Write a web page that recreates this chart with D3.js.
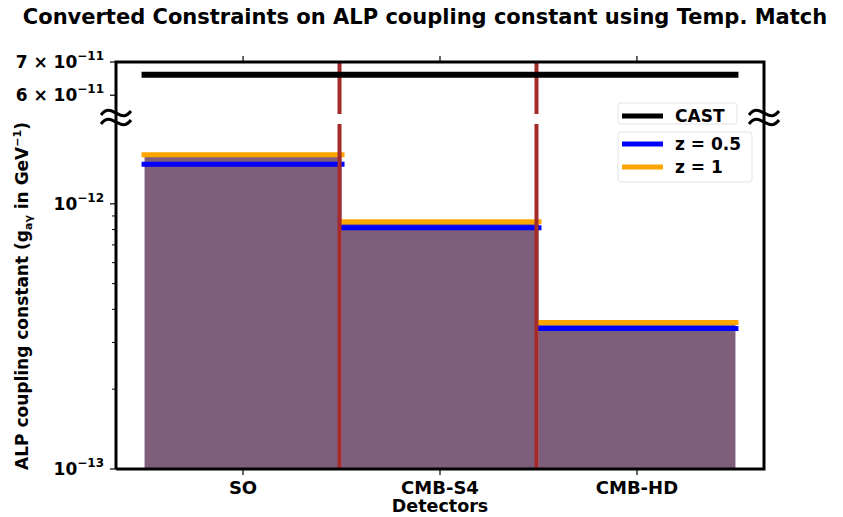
<!DOCTYPE html>
<html>
<head>
<meta charset="utf-8">
<script src="https://cdn.jsdelivr.net/npm/d3@7"></script>
<style>
	body{margin:0;background:#fff;}
	svg{display:block;font-family:"DejaVu Sans",sans-serif;font-weight:bold;}
</style>
</head>
<body>
<div id="wrap"></div>
<script>
//data
var detectors = ["SO", "CMB-S4", "CMB-HD"];
var z05 = [1.41e-12, 8.12e-13, 3.39e-13];   //blue
var z1 = [1.53e-12, 8.56e-13, 3.57e-13];    //orange
var castLimit = 6.6e-11;
var topTicks = [6e-11, 7e-11];
var botMajor = [1e-13, 1e-12];
var botMinor = [2e-13, 3e-13, 4e-13, 5e-13, 6e-13, 7e-13, 8e-13, 9e-13];

(function(){
	var W = 843, H = 517;
	var L = 116, R = 764;
	var svg = d3.select("#wrap").append("svg").attr("width", W).attr("height", H);

	var x = d3.scaleBand().domain(detectors).range([L, R]).paddingInner(0).paddingOuter(0.145);
	var yTop = d3.scaleLog().domain([5.5e-11, 7e-11]).range([114, 62]);
	var yBot = d3.scaleLog().domain([1e-13, 2e-12]).range([469, 124]);

	var purple = "#7f5e7c", brown = "#a52a2a";
	var x0 = x(detectors[0]), x1 = x(detectors[detectors.length-1]) + x.bandwidth();

	//bars (up to orange value), then lines
	var g = svg.append("g");
	g.selectAll("rect.bar").data(detectors).enter().append("rect")
		.attr("x", function(d){return x(d)})
		.attr("width", x.bandwidth())
		.attr("y", function(d,i){return yBot(z1[i])})
		.attr("height", function(d,i){return yBot(1e-13) - yBot(z1[i])})
		.attr("fill", purple);

	function hline(vals, col){
		g.selectAll(null).data(detectors).enter().append("line")
			.attr("x1", function(d){return x(d) - 3})
			.attr("x2", function(d){return x(d) + x.bandwidth() + 3})
			.attr("y1", function(d,i){return yBot(vals[i])})
			.attr("y2", function(d,i){return yBot(vals[i])})
			.attr("stroke", col).attr("stroke-width", 5);
	}
	hline(z1, "#ffa500");
	hline(z05, "#0000ff");

	//separators between detectors, in both panels
	var seps = detectors.slice(1).map(function(d){return x(d)});
	seps.forEach(function(sx){
		g.append("line").attr("x1", sx-2).attr("x2", sx-2).attr("y1", 62).attr("y2", 114)
			.attr("stroke", brown).attr("stroke-width", 4);
		g.append("line").attr("x1", sx-2).attr("x2", sx-2).attr("y1", 124).attr("y2", 469)
			.attr("stroke", brown).attr("stroke-width", 4);
	});

	//CAST limit
	g.append("line").attr("x1", x0 - 3).attr("x2", x1 + 3)
		.attr("y1", yTop(castLimit)).attr("y2", yTop(castLimit))
		.attr("stroke", "#000").attr("stroke-width", 6);

	//spines
	var sp = svg.append("g").attr("stroke", "#000").attr("stroke-width", 3).attr("fill", "none");
	sp.append("path").attr("d", "M"+L+",469V62H"+R+"V469H"+L);

	//y ticks
	var tk = svg.append("g").attr("stroke", "#000");
	topTicks.forEach(function(v){
		tk.append("line").attr("x1", L-6).attr("x2", L).attr("y1", yTop(v)).attr("y2", yTop(v)).attr("stroke-width", 1.2);
	});
	botMajor.forEach(function(v){
		tk.append("line").attr("x1", L-6).attr("x2", L).attr("y1", yBot(v)).attr("y2", yBot(v)).attr("stroke-width", 1.2);
	});
	botMinor.forEach(function(v){
		tk.append("line").attr("x1", L-4).attr("x2", L).attr("y1", yBot(v)).attr("y2", yBot(v)).attr("stroke-width", 1);
	});
	//x ticks bottom and top
	detectors.forEach(function(d){
		var cx = x(d) + x.bandwidth()/2;
		tk.append("line").attr("x1", cx).attr("x2", cx).attr("y1", 469).attr("y2", 475).attr("stroke-width", 1.2);
		tk.append("line").attr("x1", cx).attr("x2", cx).attr("y1", 62).attr("y2", 56).attr("stroke-width", 1.2);
	});

	//tick labels
	var lab = svg.append("g").attr("fill", "#000").attr("text-anchor", "end");
	function sciLabel(yy, mant, exp){
		var t = lab.append("text").attr("x", L-12).attr("y", yy + 6).style("font-size", "17px");
		t.append("tspan").text((mant ? mant + " \u00d7 " : "") + "10");
		t.append("tspan").attr("dy", -8).style("font-size", "12px").text("\u2212" + exp);
	}
	topTicks.forEach(function(v){
		var e = Math.floor(Math.log10(v) + 1e-9);
		sciLabel(yTop(v), Math.round(v / Math.pow(10, e)), -e);
	});
	botMajor.forEach(function(v){
		sciLabel(yBot(v), null, -Math.round(Math.log10(v)));
	});

	svg.append("g").selectAll("text").data(detectors).enter().append("text")
		.attr("x", function(d){return x(d) + x.bandwidth()/2})
		.attr("y", 494).attr("text-anchor", "middle").style("font-size", "18px")
		.text(function(d){return d});

	svg.append("text").attr("x", 440).attr("y", 512).attr("text-anchor", "middle")
		.style("font-size", "17.5px").text("Detectors");

	var yl = svg.append("text").attr("transform", "translate(28,296) rotate(-90)")
		.attr("text-anchor", "middle").style("font-size", "17px");
	yl.append("tspan").text("ALP coupling constant (g");
	yl.append("tspan").attr("dy", 4).style("font-size", "11px").text("a\u03b3");
	yl.append("tspan").attr("dy", -4).text(" in GeV");
	yl.append("tspan").attr("dy", -7).style("font-size", "11px").text("\u22121");
	yl.append("tspan").attr("dy", 7).text(")");

	svg.append("text").attr("x", 425).attr("y", 24).attr("text-anchor", "middle")
		.style("font-size", "21px").text("Converted Constraints on ALP coupling constant using Temp. Match");

	//break marks
	var br = svg.append("g").attr("stroke", "#000").attr("stroke-width", 3).attr("fill", "none");
	[L, R].forEach(function(bx){
		[113, 122].forEach(function(by){
			br.append("path").attr("d", "M"+(bx-15)+","+(by+2)+"C"+(bx-9)+","+(by-6)+" "+(bx-4)+","+(by-2)+" "+bx+","+by
				+"S"+(bx+9)+","+(by+6)+" "+(bx+15)+","+(by-2));
		});
	});

	//legends
	var leg = svg.append("g");
	function legendBox(bx, by, bw, bh, items){
		leg.append("rect").attr("x", bx).attr("y", by).attr("width", bw).attr("height", bh)
			.attr("rx", 3).attr("fill", "#fff").attr("fill-opacity", 0.8).attr("stroke", "#e3e3e3");
		items.forEach(function(it){
			leg.append("line").attr("x1", bx+4).attr("x2", bx+45).attr("y1", it.y).attr("y2", it.y)
				.attr("stroke", it.c).attr("stroke-width", it.w);
			leg.append("text").attr("x", bx+57).attr("y", it.y+6).style("font-size", "17px").text(it.t);
		});
	}
	legendBox(618, 103, 119, 21, [{y: 116, c: "#000", w: 5, t: "CAST"}]);
	legendBox(618, 132, 134, 50, [{y: 144, c: "#0000ff", w: 5, t: "z = 0.5"}, {y: 167, c: "#ffa500", w: 5, t: "z = 1"}]);
})();
</script>
</body>
</html>
